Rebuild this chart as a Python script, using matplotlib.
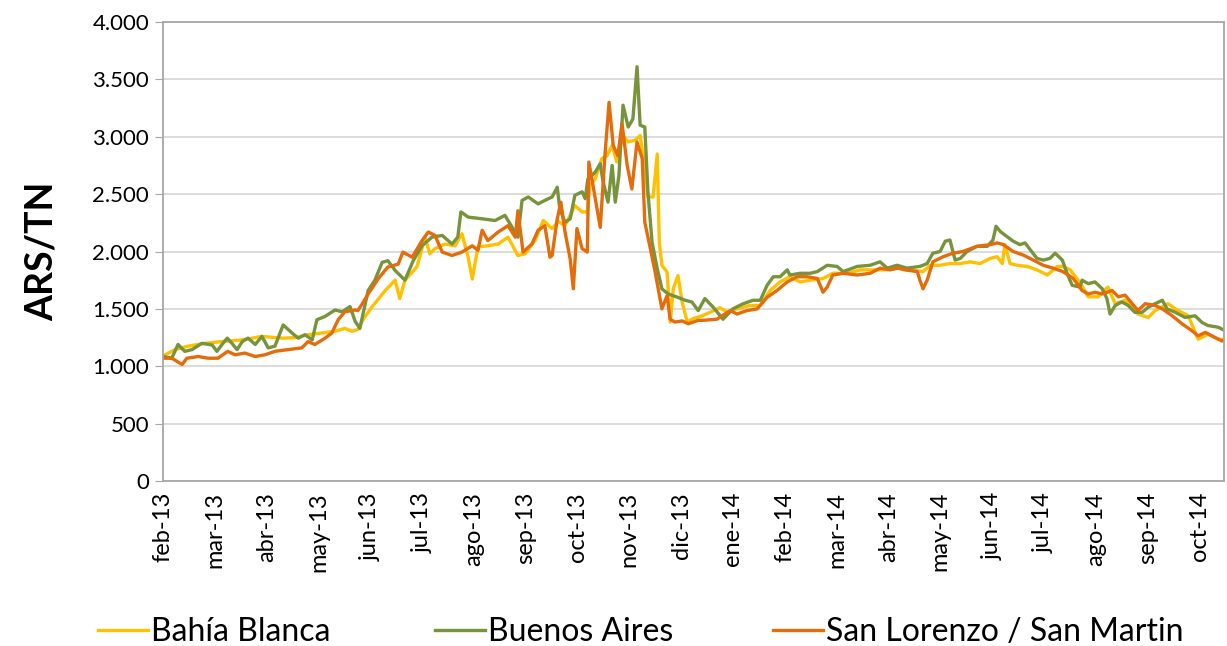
import matplotlib
matplotlib.use("Agg")
import matplotlib.pyplot as plt
from matplotlib.ticker import FuncFormatter

plt.rcParams['font.family'] = ['Lato', 'DejaVu Sans']

# month labels (one tick per month, feb-13 = 0)
months = ['feb-13', 'mar-13', 'abr-13', 'may-13', 'jun-13', 'jul-13', 'ago-13',
          'sep-13', 'oct-13', 'nov-13', 'dic-13', 'ene-14', 'feb-14', 'mar-14',
          'abr-14', 'may-14', 'jun-14', 'jul-14', 'ago-14', 'sep-14', 'oct-14']

# ---------------- Bahia Blanca ----------------
bb_t = [0.00, 0.23, 0.48, 0.81, 1.14, 1.53, 1.91, 2.30, 2.55, 2.80, 3.07, 3.32, 3.51,
        3.65, 3.76, 3.86, 4.03, 4.29, 4.48, 4.57, 4.67, 4.90, 5.06, 5.15, 5.25, 5.44,
        5.64, 5.77, 5.89, 5.97, 6.08, 6.27, 6.47, 6.66, 6.85, 6.99, 7.18, 7.34, 7.51,
        7.63, 7.76, 7.86, 7.95, 8.09, 8.19, 8.24, 8.34, 8.47, 8.57, 8.67, 8.76, 8.88,
        8.98, 9.11, 9.21, 9.30, 9.36, 9.46, 9.54, 9.58, 9.63, 9.73, 9.79, 9.85, 9.94,
        10.02, 10.12, 10.23, 10.41, 10.56, 10.75, 10.89, 11.08, 11.33, 11.53, 11.72,
        11.91, 12.10, 12.30, 12.49, 12.74, 12.93, 13.20, 13.46, 13.71, 13.90, 14.17,
        14.42, 14.67, 14.81, 15.00, 15.19, 15.39, 15.58, 15.77, 15.97, 16.10, 16.20,
        16.25, 16.35, 16.49, 16.68, 16.87, 17.07, 17.26, 17.37, 17.51, 17.64, 17.74,
        17.86, 18.05, 18.24, 18.38, 18.57, 18.82, 19.02, 19.15, 19.40, 19.54, 19.79,
        19.98, 20.17, 20.37, 20.50]
bb_v = [1090, 1145, 1175, 1200, 1215, 1230, 1260, 1245, 1250, 1275, 1290, 1305, 1330,
        1305, 1320, 1405, 1515, 1660, 1750, 1590, 1750, 1865, 2125, 1980, 2025, 2065,
        2050, 2155, 1950, 1760, 2040, 2050, 2065, 2125, 1965, 1980, 2095, 2270, 2200,
        2260, 2225, 2315, 2400, 2345, 2345, 2575, 2630, 2810, 2835, 2925, 2780, 3010,
        2955, 2970, 3010, 2750, 2475, 2475, 2850, 2080, 1880, 1820, 1385, 1675, 1790,
        1560, 1385, 1415, 1440, 1470, 1510, 1470, 1500, 1530, 1530, 1660,
        1735, 1780, 1735, 1750, 1765, 1810, 1810, 1840, 1840, 1840, 1855,
        1840, 1825, 1880, 1880, 1895, 1895, 1910, 1895, 1940, 1955, 1895,
        2060, 1895, 1880, 1870, 1840, 1795, 1870, 1870, 1840, 1765, 1700,
        1605, 1605, 1690, 1545, 1575, 1455, 1425, 1485, 1545, 1500, 1440,
        1235, 1280, 1235, 1235]

# ---------------- Buenos Aires ----------------
ba_t = [0.00, 0.17, 0.29, 0.42, 0.56, 0.75, 0.95, 1.04, 1.14, 1.24, 1.33, 1.43, 1.53,
        1.64, 1.78, 1.91, 2.03, 2.16, 2.32, 2.49, 2.61, 2.74, 2.88, 2.97, 3.13, 3.32,
        3.46, 3.61, 3.71, 3.80, 3.96, 4.09, 4.23, 4.34, 4.48, 4.67, 4.83, 5.00, 5.19,
        5.39, 5.58, 5.69, 5.75, 5.89, 6.16, 6.41, 6.60, 6.74, 6.85, 6.93, 7.05, 7.24,
        7.37, 7.51, 7.61, 7.66, 7.76, 7.86, 7.95, 8.09, 8.15, 8.20, 8.34, 8.44, 8.49,
        8.59, 8.67, 8.73, 8.80, 8.88, 8.98, 9.07, 9.15, 9.21, 9.30, 9.36, 9.44, 9.54,
        9.63, 9.75, 9.94, 10.08, 10.21, 10.33, 10.46, 10.62, 10.81, 11.00, 11.20, 11.39,
        11.53, 11.66, 11.78, 11.91, 12.05, 12.10, 12.30, 12.49, 12.63, 12.82, 13.01,
        13.13, 13.40, 13.65, 13.84, 13.98, 14.17, 14.36, 14.61, 14.75, 14.86, 15.00,
        15.10, 15.19, 15.29, 15.39, 15.52, 15.71, 15.91, 16.02, 16.08, 16.16, 16.29,
        16.41, 16.54, 16.64, 16.74, 16.87, 16.99, 17.12, 17.22, 17.36, 17.45, 17.55,
        17.70, 17.74, 17.86, 17.99, 18.13, 18.22, 18.28, 18.38, 18.51, 18.63, 18.76,
        18.90, 19.02, 19.15, 19.29, 19.38, 19.54, 19.73, 19.92, 20.06, 20.17, 20.37,
        20.50]
ba_v = [1085, 1070, 1190, 1130, 1145, 1200, 1185, 1130, 1190, 1245, 1200, 1145, 1215,
        1245, 1190, 1260, 1160, 1175, 1360, 1290, 1245, 1275, 1230, 1405, 1435, 1490,
        1475, 1520, 1390, 1330, 1660, 1750, 1905, 1920, 1835, 1750, 1920, 2050, 2125,
        2140, 2065, 2125, 2345, 2300, 2285, 2270, 2315, 2210, 2125, 2445, 2475, 2415,
        2445, 2475, 2560, 2370, 2255, 2285, 2490, 2520, 2460, 2630, 2690, 2765, 2620,
        2430, 2750, 2430, 2660, 3275, 3085, 3155, 3610, 3100, 3085, 2520, 2080, 1850,
        1675, 1630, 1600, 1575, 1560, 1485, 1590, 1515, 1410, 1500, 1545, 1575,
        1575, 1705, 1780, 1780, 1840, 1795, 1810, 1810, 1825, 1880, 1870,
        1825, 1870, 1880, 1910, 1855, 1880, 1855, 1870, 1895, 1985, 2000,
        2090, 2100, 1925, 1940, 2000, 2045, 2045, 2100, 2220, 2175, 2130,
        2090, 2060, 2075, 2015, 1940, 1925, 1940, 1985, 1925, 1810, 1705,
        1690, 1750, 1720, 1735, 1675, 1590, 1455, 1530, 1560, 1530, 1470,
        1470, 1515, 1545, 1575, 1500, 1470, 1425, 1440, 1380, 1355, 1340,
        1310]

# ---------------- San Lorenzo / San Martin ----------------
sl_t = [0.00, 0.17, 0.37, 0.46, 0.68, 0.87, 1.06, 1.25, 1.39, 1.58, 1.78, 1.97, 2.16,
        2.41, 2.68, 2.80, 2.93, 3.13, 3.26, 3.38, 3.51, 3.71, 3.76, 3.84, 3.96, 4.15,
        4.34, 4.54, 4.63, 4.81, 5.00, 5.12, 5.25, 5.39, 5.58, 5.77, 5.97, 6.08, 6.16,
        6.27, 6.47, 6.66, 6.80, 6.85, 6.95, 7.12, 7.24, 7.37, 7.47, 7.51, 7.61, 7.68,
        7.76, 7.86, 7.92, 7.99, 8.09, 8.19, 8.22, 8.30, 8.44, 8.53, 8.61, 8.69, 8.78,
        8.86, 8.96, 9.05, 9.15, 9.25, 9.30, 9.40, 9.50, 9.63, 9.73, 9.79, 9.88, 10.02,
        10.14, 10.33, 10.42, 10.69, 10.95, 11.08, 11.27, 11.47, 11.66, 11.85, 12.05,
        12.24, 12.43, 12.63, 12.74, 12.82, 12.93, 13.13, 13.40, 13.65, 13.84, 14.03,
        14.19, 14.32, 14.56, 14.61, 14.67, 14.75, 14.86, 15.06, 15.25, 15.44, 15.71,
        15.97, 16.10, 16.22, 16.41, 16.60, 16.80, 16.99, 17.18, 17.37, 17.57, 17.74,
        17.86, 17.99, 18.13, 18.32, 18.44, 18.57, 18.71, 18.82, 18.96, 19.15, 19.29,
        19.48, 19.67, 19.86, 19.98, 20.12, 20.31, 20.44, 20.50]
sl_v = [1070, 1070, 1015, 1070, 1085, 1070, 1070, 1130, 1100, 1115, 1085, 1100, 1130,
        1145, 1160, 1215, 1190, 1245, 1290, 1405, 1475, 1490, 1485, 1540, 1630, 1760,
        1865, 1890, 1995, 1950, 2095, 2170, 2140, 1995, 1965, 1995, 2050, 2010, 2185,
        2095, 2170, 2225, 2125, 2355, 1995, 2065, 2185, 2225, 1950, 1965, 2285, 2430,
        2170, 1935, 1675, 2200, 2025, 1995, 2780, 2575, 2210, 2835, 3300, 2925, 2835,
        3115, 2750, 2545, 2955, 2810, 2255, 2040, 1820, 1500, 1615, 1410, 1385, 1395,
        1370, 1400, 1400, 1410, 1485, 1455, 1485, 1500, 1600, 1660, 1735,
        1780, 1780, 1765, 1645, 1690, 1795, 1810, 1795, 1810, 1855, 1840,
        1855, 1840, 1825, 1750, 1675, 1750, 1910, 1955, 1985, 2000, 2045,
        2060, 2075, 2060, 2000, 1970, 1925, 1880, 1855, 1825, 1765, 1660,
        1630, 1645, 1630, 1660, 1605, 1620, 1545, 1485, 1545, 1530, 1500,
        1440, 1370, 1310, 1265, 1295, 1250, 1220, 1230]

c_bb = '#FFC000'
c_ba = '#77933C'
c_sl = '#E46C0A'

fig = plt.figure(figsize=(12.27, 6.46), dpi=100)
ax = fig.add_axes([163 / 1227, 1 - 481 / 646, (1224 - 163) / 1227, (481 - 22) / 646])

l1, = ax.plot(bb_t, bb_v, color=c_bb, lw=2.4, label='Bahía Blanca', solid_joinstyle='round')
l2, = ax.plot(ba_t, ba_v, color=c_ba, lw=2.4, label='Buenos Aires', solid_joinstyle='round')
l3, = ax.plot(sl_t, sl_v, color=c_sl, lw=2.4, label='San Lorenzo / San Martin', solid_joinstyle='round')

ax.set_xlim(0, 20.48)
ax.set_ylim(0, 4000)
ax.set_yticks(range(0, 4001, 500))
ax.yaxis.set_major_formatter(FuncFormatter(lambda v, p: f'{int(v):,}'.replace(',', '.')))
ax.set_xticks(range(len(months)))
ax.set_xticklabels(months, rotation=90, fontsize=17)
ax.tick_params(axis='x', length=0, pad=8)
ax.tick_params(axis='y', labelsize=16, length=6, color='#A6A6A6', pad=4)
ax.grid(axis='y', color='#D9D9D9', lw=1.3)
ax.set_axisbelow(True)
for s in ax.spines.values():
    s.set_color('#A6A6A6')
    s.set_linewidth(1.3)

ax.set_ylabel('ARS/TN', fontsize=27, fontweight='bold', labelpad=24)

# legend entries spread along the bottom
for h, xpos in [(l1, 98), (l2, 435), (l3, 773)]:
    fig.legend(handles=[h], loc='center left', bbox_to_anchor=(xpos / 1227, 1 - 632 / 646),
               frameon=False, fontsize=23, handlelength=1.55, handletextpad=0.1,
               borderpad=0, borderaxespad=0)

fig.savefig('out.png', dpi=100)
